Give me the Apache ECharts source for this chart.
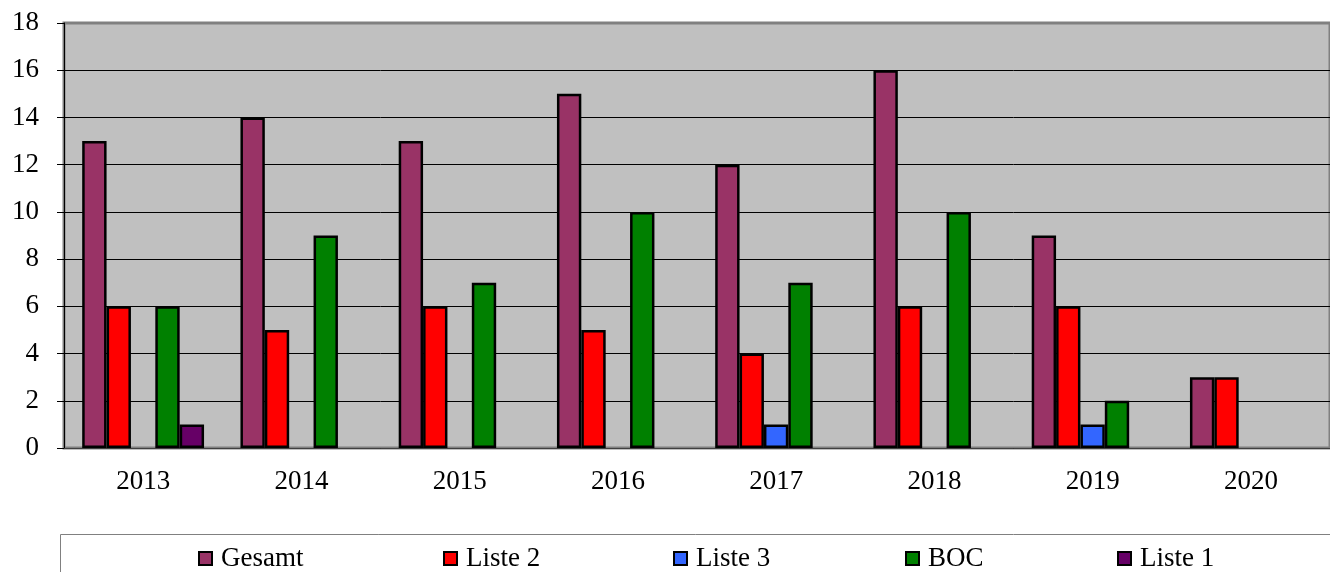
<!DOCTYPE html>
<html>
<head>
<meta charset="utf-8">
<script src="https://cdn.jsdelivr.net/npm/echarts@6/dist/echarts.min.js"></script>
<style>
  html, body { margin: 0; padding: 0; background: #fff; }
  #chart { width: 1330px; height: 572px; }
</style>
</head>
<body>
<div id="chart"></div>
<script>
const years  = ['2013', '2014', '2015', '2016', '2017', '2018', '2019', '2020']
const gesamt = [13, 14, 13, 15, 12, 16, 9, 3]
const liste2 = [6, 5, 6, 5, 4, 6, 6, 3]
const liste3 = ['-', '-', '-', '-', 1, '-', 1, '-']
const boc    = [6, 9, 7, 10, 7, 10, 2, '-']
const liste1 = [1, '-', '-', '-', '-', '-', '-', '-']

const names  = ['Gesamt', 'Liste 2', 'Liste 3', 'BOC', 'Liste 1']
const colors = ['#993366', '#ff0000', '#3366ff', '#008000', '#660066']
const values = [gesamt, liste2, liste3, boc, liste1]
const legendLeft = [198, 443, 673, 905, 1117]   // legend item positions

const font = 'Liberation Serif'
const chart = echarts.init(document.getElementById('chart'), null, { renderer: 'canvas' })

const option = {
  animation: false,
  textStyle: { fontFamily: font, color: '#000' },
  grid: {
    left: 64, top: 23, width: 1272, height: 425,
    show: true,
    backgroundColor: '#c0c0c0',
    borderColor: '#808080',
    borderWidth: 3
  },
  // one legend per entry so each sits where the reference puts it
  legend: names.map((n, i) => ({
    data: [{ name: n, icon: 'rect' }],
    left: legendLeft[i],
    top: 545,
    padding: 0,
    itemWidth: 13,
    itemHeight: 13,
    itemGap: 0,
    itemStyle: { borderColor: '#000', borderWidth: 2 },
    formatter: '{t|{name}}',
    textStyle: {
      fontFamily: font, fontSize: 27, color: '#000',
      rich: { t: { fontFamily: font, fontSize: 27, color: '#000', padding: [0, 0, 0, 4] } }
    }
  })),
  graphic: [{
    type: 'rect',
    shape: { x: 60.5, y: 534.5, width: 1400, height: 100 },
    style: { fill: 'none', stroke: '#808080', lineWidth: 1 },
    silent: true
  }],
  xAxis: {
    type: 'category',
    data: years,
    axisLine: { lineStyle: { color: '#404040', width: 1 } },
    axisTick: { alignWithLabel: false, length: 8, lineStyle: { color: '#404040' } },
    axisLabel: { fontFamily: font, fontSize: 27, color: '#000', margin: 20 }
  },
  yAxis: {
    type: 'value',
    min: 0, max: 18, interval: 2,
    axisLine: { show: true, lineStyle: { color: '#000', width: 1 } },
    axisTick: { show: true, length: 7, lineStyle: { color: '#000' } },
    axisLabel: { fontFamily: font, fontSize: 27, color: '#000', margin: 25 },
    splitLine: { showMaxLine: false, lineStyle: { color: '#000', width: 1 } }
  },
  series: names.map((n, i) => ({
    name: n,
    type: 'bar',
    data: values[i],
    barGap: '0%',
    barCategoryGap: '23%',
    itemStyle: { color: colors[i], borderColor: '#000', borderWidth: 2.5 }
  }))
}

chart.setOption(option)
</script>
</body>
</html>
